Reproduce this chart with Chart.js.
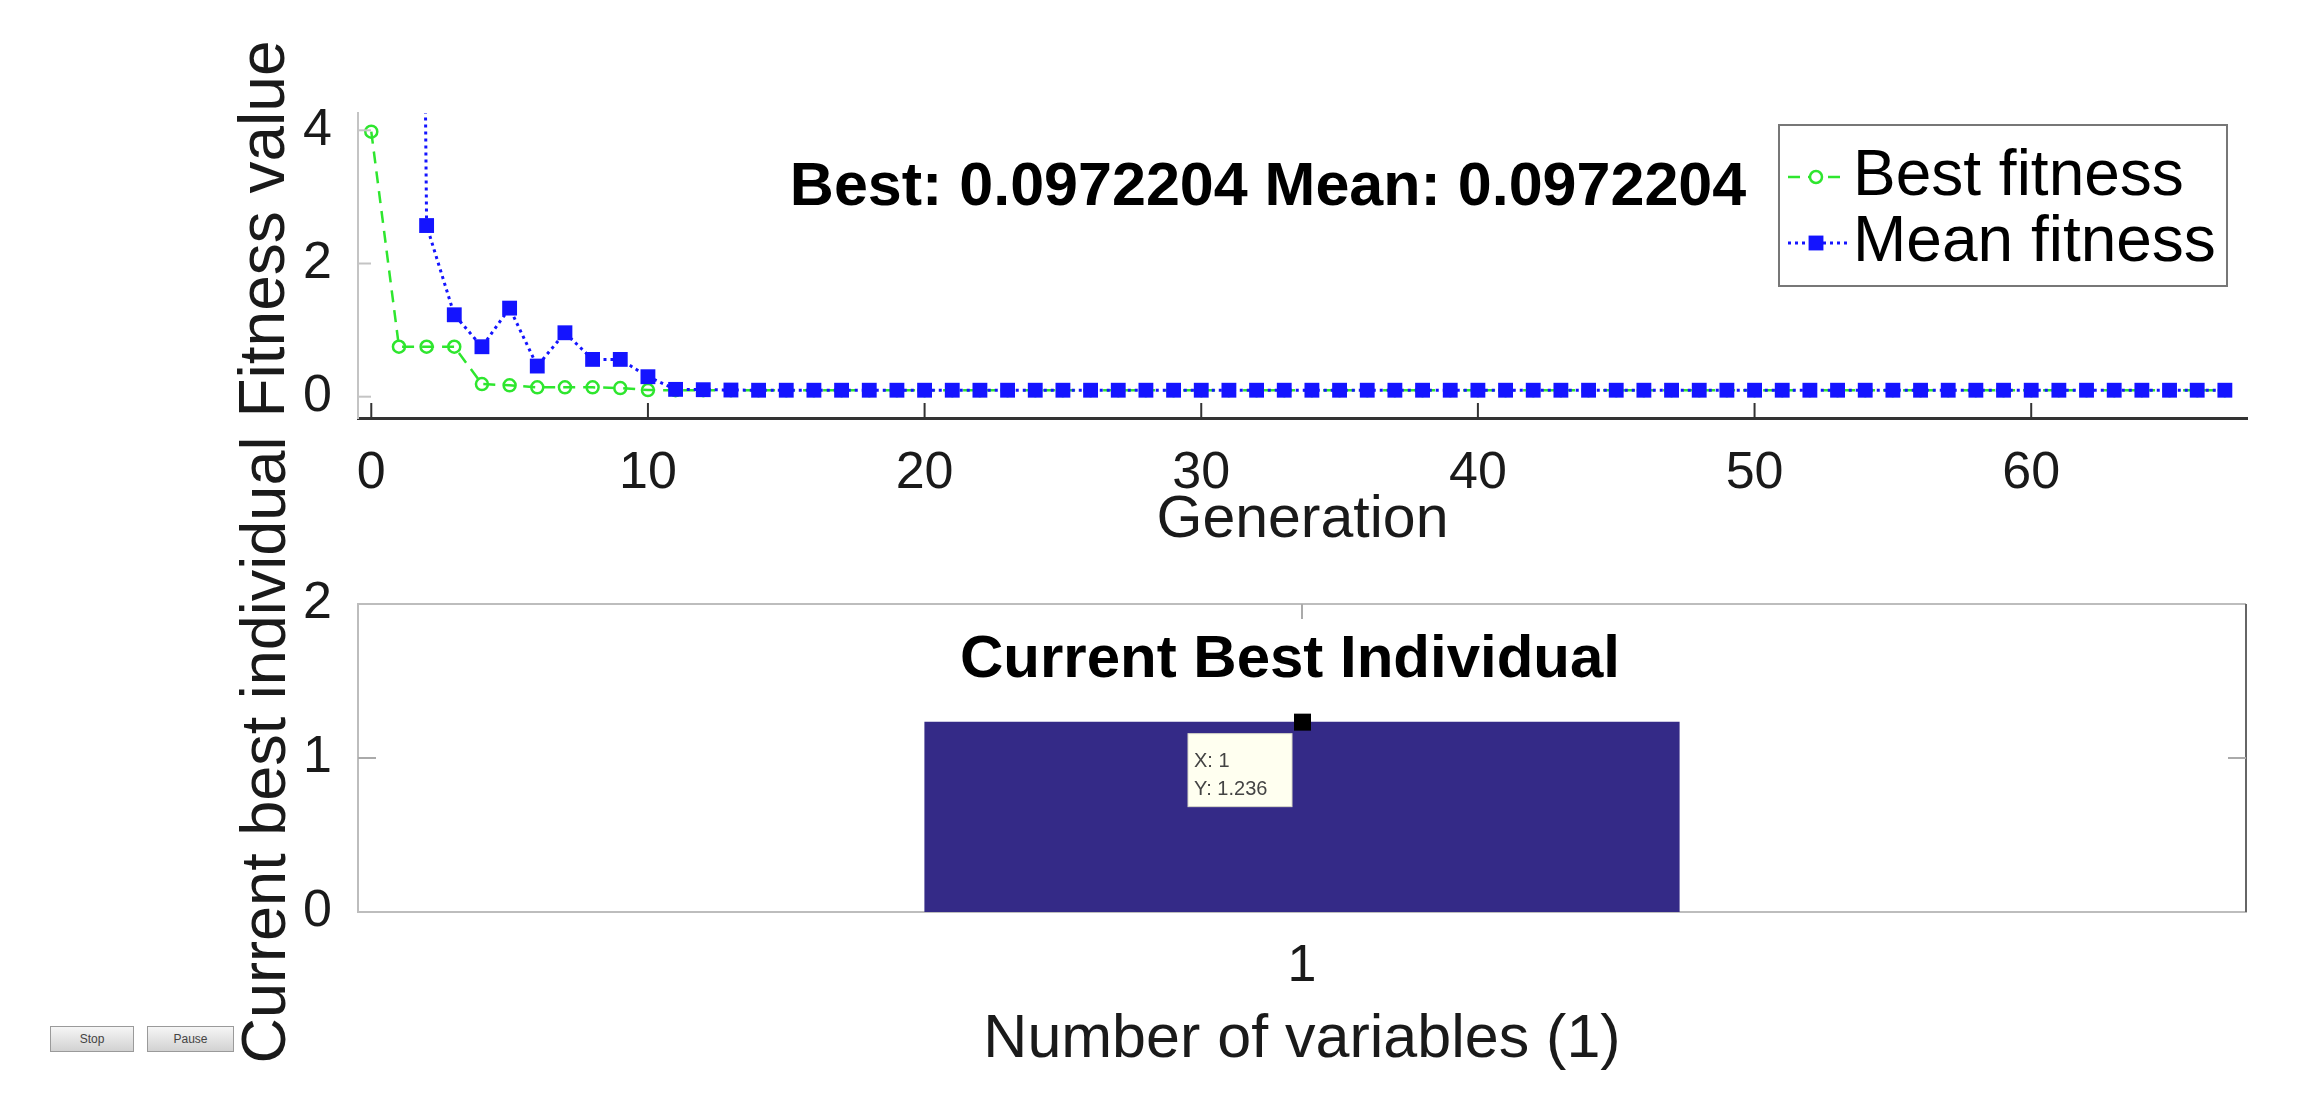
<!DOCTYPE html>
<html>
<head>
<meta charset="utf-8">
<script src="https://cdn.jsdelivr.net/npm/chart.js@4.4.1/dist/chart.umd.min.js"></script>
<style>
  body { margin: 0; background: #fff; }
  #wrap { position: relative; width: 2302px; height: 1096px; overflow: hidden; background: #fff; }
  canvas { position: absolute; left: 0; }
  #fitness { top: 0; }
  #individual { top: 420px; }
  .btn {
    position: absolute; top: 1026px; height: 24px;
    border: 1px solid #9a9a9a; background: linear-gradient(#f6f6f6, #d2d2d2);
    font: 12px 'Liberation Sans', Arial, sans-serif; color: #444;
    text-align: center; line-height: 24px;
  }
</style>
</head>
<body>
<div id="wrap">
  <canvas id="fitness" width="2302" height="550"></canvas>
  <canvas id="individual" width="2302" height="676"></canvas>
  <div class="btn" style="left:50px;width:82px">Stop</div>
  <div class="btn" style="left:147px;width:85px">Pause</div>
</div>
<script>
// generation numbers on the x axis
var generations = [0, 1, 2, 3, 4, 5, 6, 7, 8, 9, 10, 11, 12, 13, 14, 15, 16, 17, 18, 19,
  20, 21, 22, 23, 24, 25, 26, 27, 28, 29, 30, 31, 32, 33, 34, 35, 36, 37, 38, 39,
  40, 41, 42, 43, 44, 45, 46, 47, 48, 49, 50, 51, 52, 53, 54, 55, 56, 57, 58, 59,
  60, 61, 62, 63, 64, 65, 66, 67]

var bestFitness = [3.98, 0.75, 0.75, 0.75, 0.19, 0.17, 0.14, 0.14, 0.14, 0.13, 0.10, 0.0972,
  0.0972, 0.0972, 0.0972, 0.0972, 0.0972, 0.0972, 0.0972, 0.0972, 0.0972, 0.0972, 0.0972,
  0.0972, 0.0972, 0.0972, 0.0972, 0.0972, 0.0972, 0.0972, 0.0972, 0.0972, 0.0972, 0.0972,
  0.0972, 0.0972, 0.0972, 0.0972, 0.0972, 0.0972, 0.0972, 0.0972, 0.0972, 0.0972, 0.0972,
  0.0972, 0.0972, 0.0972, 0.0972, 0.0972, 0.0972, 0.0972, 0.0972, 0.0972, 0.0972, 0.0972,
  0.0972, 0.0972, 0.0972, 0.0972, 0.0972, 0.0972, 0.0972, 0.0972, 0.0972, 0.0972,
  0.0972, 0.0972]

// first two means are far above the visible range
var meanFitness = [60, 45, 2.57, 1.23, 0.75, 1.33, 0.46, 0.96, 0.56, 0.56, 0.30, 0.11,
  0.105, 0.10, 0.0972, 0.0972, 0.0972, 0.0972, 0.0972, 0.0972, 0.0972, 0.0972, 0.0972,
  0.0972, 0.0972, 0.0972, 0.0972, 0.0972, 0.0972, 0.0972, 0.0972, 0.0972, 0.0972, 0.0972,
  0.0972, 0.0972, 0.0972, 0.0972, 0.0972, 0.0972, 0.0972, 0.0972, 0.0972, 0.0972, 0.0972,
  0.0972, 0.0972, 0.0972, 0.0972, 0.0972, 0.0972, 0.0972, 0.0972, 0.0972, 0.0972, 0.0972,
  0.0972, 0.0972, 0.0972, 0.0972, 0.0972, 0.0972, 0.0972, 0.0972, 0.0972, 0.0972,
  0.0972, 0.0972]

var fitnessTicks = [0, 2, 4]
var runTitle = 'Best: 0.0972204 Mean: 0.0972204'

var variableLabels = ['1']
var bestIndividual = [1.236]

var fontFamily = "'Liberation Sans', Arial, Helvetica, sans-serif"
Chart.defaults.font.family = fontFamily
Chart.defaults.color = '#1a1a1a'

var green = '#2ee62e'
var blue = '#1414ff'

function line(ctx, x1, y1, x2, y2) {
    ctx.beginPath()
    ctx.moveTo(x1, y1)
    ctx.lineTo(x2, y2)
    ctx.stroke()
}

// extra MATLAB-ish bits: inner ticks, rotated label, title, legend box
var fitnessExtras = {
    id: 'fitnessExtras',
    afterDraw(chart) {
        var ctx = chart.ctx
        var a = chart.chartArea
        var x = chart.scales.x
        var y = chart.scales.y
        ctx.save()

        ctx.lineWidth = 2
        ctx.strokeStyle = '#333'
        x.ticks.forEach(function (t) {
            var px = x.getPixelForValue(t.value)
            line(ctx, px, a.bottom, px, a.bottom - 15)
        })
        ctx.strokeStyle = '#c4c4c4'
        y.ticks.forEach(function (t) {
            var py = y.getPixelForValue(t.value)
            line(ctx, a.left, py, a.left + 13, py)
        })

        ctx.fillStyle = '#1a1a1a'
        ctx.save()
        ctx.translate(266, 229)
        ctx.rotate(-Math.PI / 2)
        ctx.font = '64px ' + fontFamily
        ctx.textAlign = 'center'
        ctx.textBaseline = 'middle'
        ctx.fillText('Fitness value', 0, 0)
        ctx.restore()

        ctx.font = 'bold 61px ' + fontFamily
        ctx.textAlign = 'center'
        ctx.textBaseline = 'alphabetic'
        ctx.fillStyle = '#000'
        ctx.fillText(runTitle, 1268, 205)

        // legend
        var bx = 1779, by = 125, bw = 448, bh = 161
        ctx.fillStyle = '#fff'
        ctx.fillRect(bx, by, bw, bh)
        ctx.strokeStyle = '#777'
        ctx.lineWidth = 2
        ctx.strokeRect(bx, by, bw, bh)
        ctx.font = '64px ' + fontFamily
        ctx.textAlign = 'left'
        ctx.textBaseline = 'middle'
        chart.data.datasets.forEach(function (ds, i) {
            var ry = 177 + i * 66
            var mx = 1816
            ctx.strokeStyle = ds.borderColor
            ctx.lineWidth = ds.borderWidth
            ctx.setLineDash(ds.borderDash)
            line(ctx, 1788, ry, 1848, ry)
            ctx.setLineDash([])
            ctx.fillStyle = ds.pointBackgroundColor
            ctx.strokeStyle = ds.pointBorderColor
            ctx.beginPath()
            if (ds.pointStyle === 'rect') {
                var s = ds.pointRadius / Math.SQRT2
                ctx.fillRect(mx - s, ry - s, 2 * s, 2 * s)
            } else {
                ctx.lineWidth = ds.pointBorderWidth
                ctx.fillStyle = '#fff'
                ctx.arc(mx, ry, ds.pointRadius, 0, Math.PI * 2)
                ctx.fill()
                ctx.stroke()
            }
            ctx.fillStyle = '#000'
            ctx.fillText(ds.label, 1853, ry)
        })
        ctx.restore()
    }
}

new Chart('fitness', {
    type: 'line',
    data: {
        datasets: [{
            label: 'Best fitness',
            data: generations.map(function (g, i) { return {x: g, y: bestFitness[i]} }),
            borderColor: green,
            borderWidth: 2.5,
            borderDash: [12, 8],
            pointStyle: 'circle',
            pointRadius: 6,
            pointBorderWidth: 2.5,
            pointBorderColor: green,
            pointBackgroundColor: 'rgba(0,0,0,0)',
            order: 2,
        }, {
            label: 'Mean fitness',
            data: generations.map(function (g, i) { return {x: g, y: meanFitness[i]} }),
            borderColor: blue,
            borderWidth: 3,
            borderDash: [3, 4],
            pointStyle: 'rect',
            pointRadius: 10.5,
            pointBorderWidth: 0,
            pointBorderColor: blue,
            pointBackgroundColor: blue,
            order: 1,
        }]
    },
    options: {
        responsive: false,
        animation: false,
        devicePixelRatio: 1,
        layout: {padding: {top: 113, right: 55, left: 0, bottom: 0}},
        plugins: {
            legend: {display: false},
            tooltip: {enabled: false},
        },
        scales: {
            x: {
                type: 'linear',
                min: -0.48,
                max: 67.8,
                afterFit: function (s) { s.height = 132 },
                grid: {display: false},
                border: {color: '#333', width: 3},
                ticks: {stepSize: 10, includeBounds: false, padding: 16, font: {size: 52}},
                title: {
                    display: true,
                    text: 'Generation',
                    font: {size: 59, lineHeight: 1},
                    padding: {top: 0, bottom: 0},
                },
            },
            y: {
                min: -0.32,
                max: 4.26,
                afterFit: function (s) { s.width = 358 },
                afterBuildTicks: function (s) { s.ticks = fitnessTicks.map(function (v) { return {value: v} }) },
                grid: {display: false},
                border: {color: '#c4c4c4', width: 2},
                ticks: {padding: 18, font: {size: 52}},
            },
        },
    },
    plugins: [fitnessExtras]
})

var individualExtras = {
    id: 'individualExtras',
    afterDraw(chart) {
        var ctx = chart.ctx
        var a = chart.chartArea
        var x = chart.scales.x
        var y = chart.scales.y
        ctx.save()

        // rest of the axes box
        ctx.lineWidth = 2
        ctx.strokeStyle = '#bdbdbd'
        line(ctx, a.left, a.top, a.right, a.top)
        ctx.strokeStyle = '#666'
        line(ctx, a.right, a.top, a.right, a.bottom)

        ctx.strokeStyle = '#aaa'
        var cx = x.getPixelForValue(0)
        line(ctx, cx, a.top, cx, a.top + 15)
        var py = y.getPixelForValue(1)
        line(ctx, a.left, py, a.left + 18, py)
        line(ctx, a.right, py, a.right - 18, py)

        // y axis label, placed a little above the axis middle as in the original
        ctx.save()
        ctx.fillStyle = '#1a1a1a'
        ctx.translate(268, 330)
        ctx.rotate(-Math.PI / 2)
        ctx.font = '63px ' + fontFamily
        ctx.textAlign = 'center'
        ctx.textBaseline = 'middle'
        ctx.fillText('Current best individual', 0, 0)
        ctx.restore()

        ctx.fillStyle = '#000'
        ctx.font = 'bold 60px ' + fontFamily
        ctx.textAlign = 'center'
        ctx.textBaseline = 'alphabetic'
        ctx.fillText('Current Best Individual', 1290, 257)

        // data tip on the bar
        var vy = y.getPixelForValue(bestIndividual[0])
        ctx.fillStyle = '#000'
        ctx.fillRect(cx - 8, vy - 8, 17, 17)
        ctx.fillStyle = '#fffff0'
        ctx.fillRect(cx - 114, vy + 12, 104, 73)
        ctx.strokeStyle = '#d8d8c8'
        ctx.lineWidth = 1
        ctx.strokeRect(cx - 114, vy + 12, 104, 73)
        ctx.fillStyle = '#444'
        ctx.font = '20px ' + fontFamily
        ctx.textAlign = 'left'
        ctx.fillText('X: ' + variableLabels[0], cx - 108, vy + 45)
        ctx.fillText('Y: ' + bestIndividual[0], cx - 108, vy + 73)
        ctx.restore()
    }
}

new Chart('individual', {
    type: 'bar',
    data: {
        labels: variableLabels,
        datasets: [{
            label: 'Current best individual',
            data: bestIndividual,
            backgroundColor: '#342a87',
            barPercentage: 0.4,
            categoryPercentage: 1,
        }]
    },
    options: {
        responsive: false,
        animation: false,
        devicePixelRatio: 1,
        layout: {padding: {top: 184, right: 56, left: 0, bottom: 0}},
        plugins: {
            legend: {display: false},
            tooltip: {enabled: false},
        },
        scales: {
            x: {
                afterFit: function (s) { s.height = 184 },
                grid: {display: false},
                border: {color: '#bdbdbd', width: 2},
                ticks: {padding: 15, font: {size: 52}},
                title: {
                    display: true,
                    text: 'Number of variables (1)',
                    font: {size: 61, lineHeight: 1},
                    padding: {top: 0, bottom: 25},
                },
            },
            y: {
                min: 0,
                max: 2,
                afterFit: function (s) { s.width = 358 },
                grid: {display: false},
                border: {color: '#bdbdbd', width: 2},
                ticks: {stepSize: 1, padding: 18, font: {size: 52}},
            },
        },
    },
    plugins: [individualExtras]
})
</script>
</body>
</html>
